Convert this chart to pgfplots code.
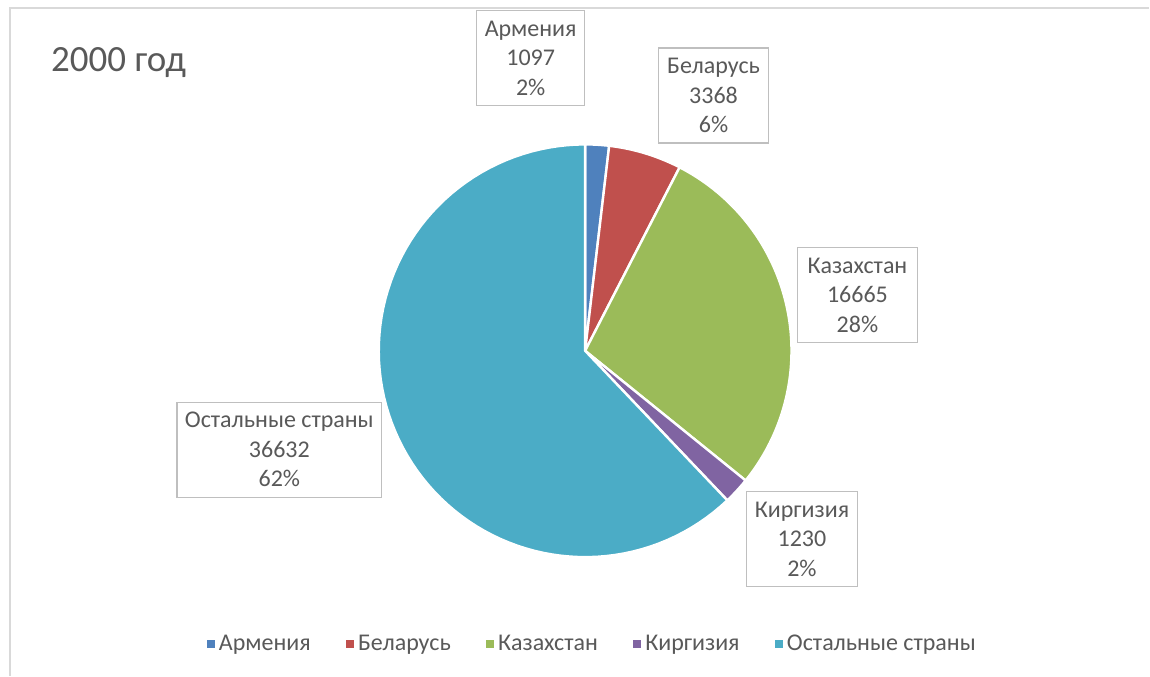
\documentclass[border=0pt]{standalone}
\usepackage{pgfplots}
\pgfplotsset{compat=1.18}
\usepackage{pgfplotstable}
\usepackage{fontspec}
\setmainfont{Carlito}
\definecolor{cA}{HTML}{4F81BD}
\definecolor{cB}{HTML}{C0504D}
\definecolor{cC}{HTML}{9BBB59}
\definecolor{cD}{HTML}{8064A2}
\definecolor{cE}{HTML}{4BACC6}
\definecolor{txt}{HTML}{595959}
\definecolor{boxc}{HTML}{BFBFBF}
\definecolor{framec}{HTML}{D9D9D9}

\pgfplotstableread{
id v
0 1097
1 3368
2 16665
3 1230
4 36632
}\pietable

\begin{document}
\begin{tikzpicture}
\pgfplotstablegetelem{0}{v}\of\pietable \edef\vA{\pgfplotsretval}
\pgfplotstablegetelem{1}{v}\of\pietable \edef\vB{\pgfplotsretval}
\pgfplotstablegetelem{2}{v}\of\pietable \edef\vC{\pgfplotsretval}
\pgfplotstablegetelem{3}{v}\of\pietable \edef\vD{\pgfplotsretval}
\pgfplotstablegetelem{4}{v}\of\pietable \edef\vE{\pgfplotsretval}
\edef\tot{\fpeval{\vA+\vB+\vC+\vD+\vE}}
\edef\aA{90}
\edef\aB{\fpeval{90-360*\vA/\tot}}
\edef\aC{\fpeval{\aB-360*\vB/\tot}}
\edef\aD{\fpeval{\aC-360*\vC/\tot}}
\edef\aE{\fpeval{\aD-360*\vD/\tot}}
\edef\aF{\fpeval{\aE-360*\vE/\tot}}
\def\cx{585.5}\def\cy{325}\def\R{206.5}
\begin{axis}[
  scale only axis, width=1150bp, height=676bp,
  xmin=0, xmax=1150, ymin=0, ymax=676,
  hide axis, clip=false,
  legend columns=-1,
  legend image code/.code={\fill[#1] (0bp,-3.5bp) rectangle (7bp,3.5bp);},
  legend style={at={(axis cs:592,32)}, anchor=center, draw=none, fill=none,
    inner sep=0pt, text=txt, font=\fontsize{24bp}{28bp}\selectfont,
    nodes={inner sep=1bp},
    /tikz/every odd column/.append style={column sep=4bp},
    /tikz/every even column/.append style={column sep=34bp}},
  pie/.style={draw=white, line width=2.4bp, line join=round, forget plot,
    samples=90, variable=\t},
]
\path (axis cs:0,0) rectangle (axis cs:1150,676);
\draw[framec, line width=1.5bp] (axis cs:10,0) -- (axis cs:10,668) -- (axis cs:1150,668);

\addplot[pie, fill=cA, domain=\aB:\aA] ({\cx+\R*cos(\t)},{\cy+\R*sin(\t)}) -- (axis cs:\cx,\cy) -- cycle;
\addplot[pie, fill=cB, domain=\aC:\aB] ({\cx+\R*cos(\t)},{\cy+\R*sin(\t)}) -- (axis cs:\cx,\cy) -- cycle;
\addplot[pie, fill=cC, domain=\aD:\aC] ({\cx+\R*cos(\t)},{\cy+\R*sin(\t)}) -- (axis cs:\cx,\cy) -- cycle;
\addplot[pie, fill=cD, domain=\aE:\aD] ({\cx+\R*cos(\t)},{\cy+\R*sin(\t)}) -- (axis cs:\cx,\cy) -- cycle;
\addplot[pie, fill=cE, domain=\aF:\aE] ({\cx+\R*cos(\t)},{\cy+\R*sin(\t)}) -- (axis cs:\cx,\cy) -- cycle;

\addlegendimage{cA}\addlegendentry{Армения}
\addlegendimage{cB}\addlegendentry{Беларусь}
\addlegendimage{cC}\addlegendentry{Казахстан}
\addlegendimage{cD}\addlegendentry{Киргизия}
\addlegendimage{cE}\addlegendentry{Остальные страны}

\node[anchor=base west, text=txt, inner sep=0pt, font=\fontsize{37bp}{40bp}\selectfont] at (axis cs:51,604) {2000 год};

\tikzset{lbl/.style={draw=boxc, line width=1.3bp, fill=white, align=center, text=txt,
  minimum height=95bp, inner sep=0pt, font=\fontsize{24bp}{29.5bp}\selectfont}}
\node[lbl, minimum width=108bp] at (axis cs:531,618) {Армения\\1097\\2\%};
\node[lbl, minimum width=110bp] at (axis cs:714,580.5) {Беларусь\\3368\\6\%};
\node[lbl, minimum width=120bp] at (axis cs:858,380.5) {Казахстан\\16665\\28\%};
\node[lbl, minimum width=111bp] at (axis cs:802.5,136.5) {Киргизия\\1230\\2\%};
\node[lbl, minimum width=205bp] at (axis cs:279.5,226) {Остальные страны\\36632\\62\%};
\end{axis}
\end{tikzpicture}
\end{document}
